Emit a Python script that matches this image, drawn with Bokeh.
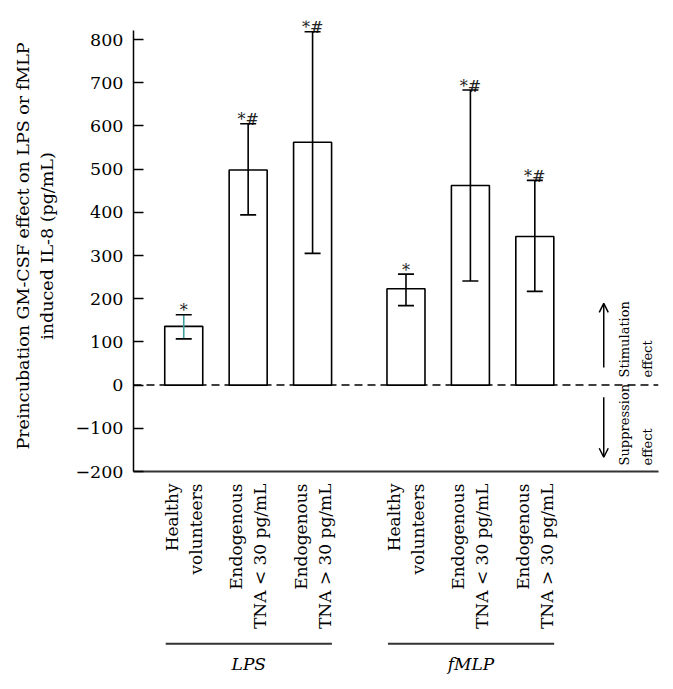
import numpy as np
from bokeh.plotting import figure
from bokeh.layouts import column
from bokeh.models import (ColumnDataSource, Range1d, FixedTicker, Whisker, TeeHead,
                          Span, Arrow, OpenHead)
from bokeh.core.properties import value
from bokeh.embed import file_html
from bokeh.resources import INLINE

# ---------------- data ----------------
groups = ["LPS", "fMLP"]
categories = ["Healthy\nvolunteers", "Endogenous\nTNA < 30 pg/mL", "Endogenous\nTNA > 30 pg/mL"]

lps_mean = [136, 498, 562]
lps_lower = [107, 394, 305]
lps_upper = [163, 605, 818]
lps_marks = ["*", "*#", "*#"]

fmlp_mean = [223, 462, 344]
fmlp_lower = [184, 241, 217]
fmlp_upper = [257, 683, 474]
fmlp_marks = ["*", "*#", "*#"]

y_ticks = [-200, -100, 0, 100, 200, 300, 400, 500, 600, 700, 800]
y_title = "Preincubation GM-CSF effect on LPS or fMLP\ninduced IL-8 (pg/mL)"
side_up = ["Stimulation", "effect"]
side_down = ["Suppression", "effect"]

# ---------------- layout helpers ----------------
GROUP_GAP = 0.45
n = len(categories)
pos = []
for gi in range(len(groups)):
    for i in range(n):
        pos.append(gi * (n + GROUP_GAP) + i)

means = lps_mean + fmlp_mean
lowers = lps_lower + fmlp_lower
uppers = lps_upper + fmlp_upper
marks = lps_marks + fmlp_marks
stem_colors = ["#3f9d9d"] + ["black"] * (len(pos) - 1)

src = ColumnDataSource(dict(x=pos, top=means, lower=lowers, upper=uppers,
                            mark=marks, stem=stem_colors))

FONT = "DejaVu Serif"
FS = "17.5px"
W = 673
H_MAIN = 634
H_STRIP = 689 - H_MAIN

p = figure(width=W, height=H_MAIN, output_backend="svg", toolbar_location=None,
           x_range=Range1d(-0.78, 7.37), y_range=Range1d(-200, 844),
           min_border_left=133, min_border_right=15, min_border_top=20,
           min_border_bottom=H_MAIN - 20 - 451)
p.outline_line_color = None
p.xgrid.visible = False
p.ygrid.visible = False

# zero dashed line
p.add_layout(Span(location=0, dimension="width", line_color="black",
                  line_width=1.5, line_dash="8 5", level="underlay"))

# bars
p.vbar(x="x", top="top", bottom=0, width=0.59, source=src,
       fill_color="white", line_color="black", line_width=1.6)

# error bar stems
p.segment(x0="x", y0="lower", x1="x", y1="upper", source=src,
          line_color="stem", line_width=1.6)
# caps
w = Whisker(base="x", lower="lower", upper="upper", source=src,
            line_color=None, level="overlay",
            upper_head=TeeHead(size=16, line_color="black", line_width=1.6),
            lower_head=TeeHead(size=16, line_color="black", line_width=1.6))
p.add_layout(w)

# significance marks
p.text(x="x", y="upper", text="mark", source=src, text_align="center",
       text_baseline="alphabetic", y_offset=-4, text_font=value(FONT),
       text_font_size="16px", text_color="#222222")

# ---------------- y axis ----------------
ya = p.yaxis[0]
ya.ticker = FixedTicker(ticks=y_ticks)
ya.bounds = (-200, 822)
ya.major_tick_in = 10
ya.major_tick_out = 0
ya.minor_tick_in = 0
ya.minor_tick_out = 0
ya.axis_line_width = 1.5
ya.major_tick_line_width = 1.5
ya.major_label_standoff = 10
ya.major_label_text_font = FONT
ya.major_label_text_font_size = FS
ya.major_label_text_color = "black"
ya.major_label_overrides = {t: (str(t).replace("-", "\u2212")) for t in y_ticks}
ya.axis_label = y_title
ya.axis_label_text_font = FONT
ya.axis_label_text_font_size = FS
ya.axis_label_text_font_style = "normal"
ya.axis_label_text_line_height = 1.22
ya.axis_label_standoff = 15
ya.axis_label_text_color = "black"

# ---------------- x axis ----------------
xa = p.xaxis[0]
xa.ticker = FixedTicker(ticks=pos)
xa.major_label_overrides = {pos[gi * n + i]: categories[i]
                            for gi in range(len(groups)) for i in range(n)}
xa.major_label_orientation = np.pi / 2
xa.major_tick_in = 0
xa.major_tick_out = 0
xa.minor_tick_in = 0
xa.minor_tick_out = 0
xa.major_label_standoff = 12
xa.major_label_text_font = FONT
xa.major_label_text_font_size = "17px"
xa.major_label_text_line_height = 1.2
xa.major_label_text_color = "black"
xa.axis_line_width = 2
xa.axis_line_color = "#333333"

# ---------------- stimulation / suppression annotations ----------------
AX = 6.52
p.add_layout(Arrow(x_start=AX, y_start=41, x_end=AX, y_end=189,
                   line_width=1.5, line_color="black",
                   end=OpenHead(size=9, line_width=1.5, line_color="black")))
p.add_layout(Arrow(x_start=AX, y_start=-28, x_end=AX, y_end=-167,
                   line_width=1.5, line_color="black",
                   end=OpenHead(size=9, line_width=1.5, line_color="black")))
side_x = [6.84, 7.20]
p.text(x=side_x, y=[17.6, 17.6], text=side_up, angle=np.pi / 2,
       text_align="left", text_baseline="middle", text_font=value(FONT),
       text_font_size="13px", text_color="black")
p.text(x=side_x, y=[-186, -186], text=side_down, angle=np.pi / 2,
       text_align="left", text_baseline="middle", text_font=value(FONT),
       text_font_size="13px", text_color="black")

# ---------------- group brackets (strip below) ----------------
g = figure(width=W, height=H_STRIP, output_backend="svg", toolbar_location=None,
           x_range=p.x_range, y_range=Range1d(-H_STRIP, 0),
           x_axis_location=None, y_axis_location=None,
           min_border_left=133, min_border_right=15, min_border_top=0,
           min_border_bottom=0)
g.outline_line_color = None
g.xgrid.visible = False
g.ygrid.visible = False

g_x0, g_x1, g_mid = [], [], []
for gi in range(len(groups)):
    first = pos[gi * n]
    last = pos[gi * n + n - 1]
    g_x0.append(first - 0.28)
    g_x1.append(last + 0.30)
    g_mid.append((g_x0[-1] + g_x1[-1]) / 2)
gsrc = ColumnDataSource(dict(x0=g_x0, x1=g_x1, mid=g_mid, name=groups))
g.segment(x0="x0", x1="x1", y0=-9.3, y1=-9.3, source=gsrc,
          line_color="#333333", line_width=2)
g.text(x="mid", y=-29, text="name", source=gsrc, text_align="center",
       text_baseline="middle", text_font=value(FONT), text_font_style="italic",
       text_font_size="17px", text_color="black")

layout = column(p, g, spacing=0)
open("out.html", "w").write(file_html(layout, INLINE))
